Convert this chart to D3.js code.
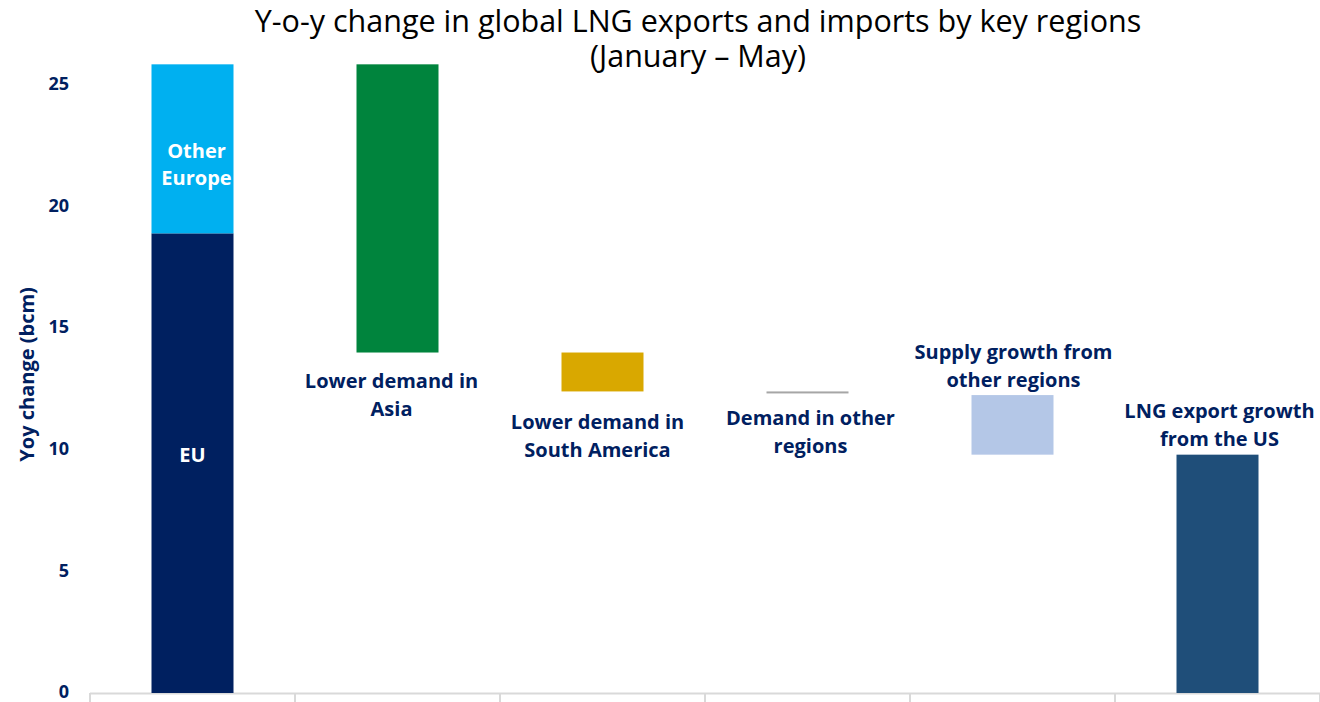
<!DOCTYPE html>
<html>
<head>
<meta charset="utf-8">
<script src="https://cdn.jsdelivr.net/npm/d3@7"></script>
<style>
  html, body { margin: 0; padding: 0; background: #ffffff; }
  svg { display: block; }
  text { font-family: "Open Sans", "Noto Sans", sans-serif; }
</style>
</head>
<body>
<svg id="chart" width="1320" height="702"></svg>
<script>
// Waterfall of y-o-y LNG changes, January – May (bcm)
const categories = ["Europe", "Asia", "South America", "Other demand", "Other supply", "US"];

// Each segment: category, lower and upper value on the axis
const segmentNames = ["EU", "Other Europe", "Lower demand in Asia", "Lower demand in South America",
                      "Demand in other regions", "Supply growth from other regions", "LNG export growth from the US"];
const segmentCategory = ["Europe", "Europe", "Asia", "South America", "Other demand", "Other supply", "US"];
const segmentLow  = [0,    18.9,  14.0,  12.4, 12.33, 9.8,   0];
const segmentHigh = [18.9, 25.85, 25.85, 14.0, 12.4,  12.25, 9.8];
const segmentColor = ["#002060", "#00B0F0", "#00843D", "#D9A800", "#A6A6A6", "#B4C7E7", "#1F4E79"];

const yTicks = [0, 5, 10, 15, 20, 25];

const title = ["Y-o-y change in global LNG exports and imports by key regions", "(January \u2013 May)"];
const yTitle = "Yoy change (bcm)";

const navy = "#002060";
const svg = d3.select("#chart");

const x = d3.scaleBand().domain(categories).range([90, 1320]).paddingInner(0.6).paddingOuter(0.3);
const y = d3.scaleLinear().domain([0, 25]).range([693, 85]);

// Title
svg.append("g").selectAll("text").data(title).join("text")
  .attr("x", 698).attr("y", (d, i) => 32 + i * 35)
  .attr("text-anchor", "middle")
  .attr("font-size", 30.5).attr("fill", "#000")
  .text(d => d);

// Y axis: tick labels only
const yAxis = svg.append("g").attr("transform", "translate(69,-1)")
  .call(d3.axisLeft(y).tickValues(yTicks).tickSize(0).tickPadding(0));
yAxis.select(".domain").remove();
yAxis.selectAll("text").attr("font-size", 18).attr("font-weight", 700).attr("fill", navy)
  .attr("font-family", "\"Open Sans\", sans-serif");

svg.append("text")
  .attr("transform", `translate(34,${y(13.1)}) rotate(-90)`)
  .attr("text-anchor", "middle")
  .attr("font-size", 20).attr("font-weight", 700).attr("fill", navy)
  .text(yTitle);

// X axis baseline with category separators
const boundaries = d3.range(categories.length + 1).map(i => x.range()[0] + i * x.step());
svg.append("line").attr("x1", 90).attr("x2", 1320).attr("y1", y(0) + 0.5).attr("y2", y(0) + 0.5)
  .attr("stroke", "#D9D9D9").attr("stroke-width", 2);
svg.append("g").selectAll("line").data(boundaries).join("line")
  .attr("x1", d => d).attr("x2", d => d)
  .attr("y1", y(0)).attr("y2", y(0) + 9)
  .attr("stroke", "#D9D9D9").attr("stroke-width", 2);

// Bars
svg.append("g").selectAll("rect").data(segmentNames).join("rect")
  .attr("x", (d, i) => x(segmentCategory[i]))
  .attr("width", x.bandwidth())
  .attr("y", (d, i) => y(segmentHigh[i]))
  .attr("height", (d, i) => Math.max(2, y(segmentLow[i]) - y(segmentHigh[i])))
  .attr("fill", (d, i) => segmentColor[i]);

// Labels
function label(lines, cx, cy, color, size, gap) {
  svg.append("g").selectAll("text").data(lines).join("text")
    .attr("x", cx).attr("y", (d, i) => cy + i * gap)
    .attr("text-anchor", "middle")
    .attr("font-size", size).attr("font-weight", 700).attr("fill", color)
    .text(d => d);
}
const cx = c => x(c) + x.bandwidth() / 2;

label(["Other", "Europe"], cx("Europe") + 4, y((segmentLow[1] + segmentHigh[1]) / 2) + 9, "#ffffff", 20, 27);
label(["EU"], cx("Europe"), y(segmentHigh[0] / 2) - 1, "#ffffff", 20, 27);
label(["Lower demand in", "Asia"], cx("Asia") - 6, y(segmentLow[2]) + 35, navy, 20, 28);
label(["Lower demand in", "South America"], cx("South America") - 5, y(segmentLow[3]) + 38, navy, 20, 28);
label(["Demand in other", "regions"], cx("Other demand") + 3, y(segmentLow[4]) + 32, navy, 20, 28);
label(["Supply growth from", "other regions"], cx("Other supply") + 1, y(segmentHigh[5]) - 36, navy, 20, 28);
label(["LNG export growth", "from the US"], cx("US") + 2, y(segmentHigh[6]) - 37, navy, 20, 28);
</script>
</body>
</html>
